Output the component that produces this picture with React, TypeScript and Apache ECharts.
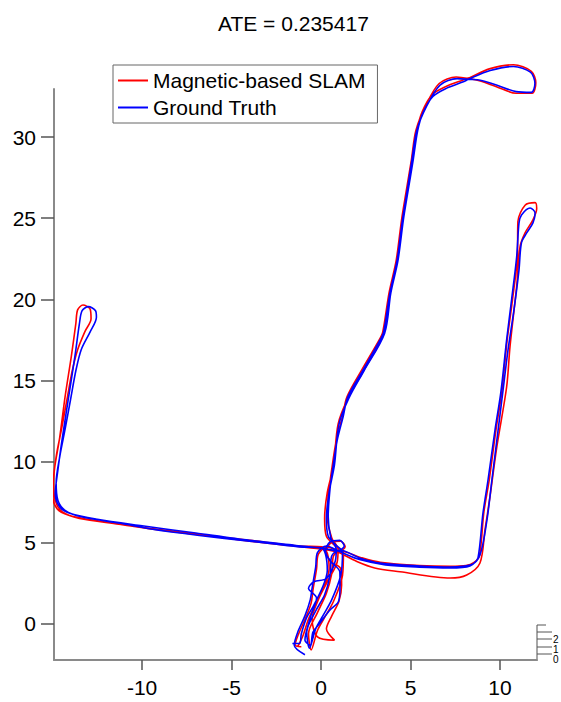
import React, { useEffect, useRef } from "react";
import * as echarts from "echarts";

const titleText = "ATE = 0.235417";
const seriesNames = ["Magnetic-based SLAM", "Ground Truth"];
const xTicks = [-10, -5, 0, 5, 10];
const yTicks = [0, 5, 10, 15, 20, 25, 30];
const zTickLabels = ["2", "1", "0"];

// Ground truth trajectory [x, y]
const groundTruth: number[][] = [
  [-1.6, -1.2], [-1.2, -1.2], [-1.1, -0.6], [-0.8, 0.4], [-0.45, 1.05], [0.1, 2.3], [0.35, 3.3], [0.25, 4.3], [0.0, 4.7],
  [-1.2, 4.75], [-4.0, 5.1], [-6.8, 5.45], [-9.5, 5.85], [-11.2, 6.2], [-13.4, 6.6], [-14.3, 7.0], [-14.7, 7.6],
  [-14.8, 8.7], [-14.6, 10.3], [-14.3, 12.0], [-14.0, 13.8], [-13.7, 15.6], [-13.4, 16.9], [-12.9, 18.0],
  [-12.55, 18.9], [-12.6, 19.3], [-13.0, 19.55], [-13.35, 19.3], [-13.5, 18.5], [-13.75, 16.5], [-14.1, 14.0],
  [-14.45, 11.5], [-14.7, 9.5], [-14.85, 8.0], [-14.6, 7.2], [-14.0, 6.8], [-12.5, 6.45], [-10.0, 6.05],
  [-7.0, 5.6], [-4.0, 5.15], [-1.5, 4.85], [0.2, 4.65], [0.9, 4.5], [1.3, 4.8], [1.05, 5.15], [0.5, 5.05],
  [0.25, 4.5], [0.5, 3.9], [1.05, 3.2], [1.06, 2.3], [0.97, 1.37], [0.5, 0.86], [-0.1, 0.0], [-0.45, -0.5], [-0.6, -1.3],
  [-0.9, -1.0], [-0.6, 0.4], [-0.25, 1.6], [-0.7, 2.2], [-0.4, 2.6], [0.3, 2.8], [0.8, 3.9], [0.85, 4.6], [0.55, 5.3], [0.4, 6.6],
  [0.5, 8.3], [0.67, 9.7], [0.9, 11.3], [1.23, 12.75], [1.5, 14.0], [2.35, 15.65], [3.3, 17.5], [3.5, 18.0],
  [3.85, 20.4], [4.25, 22.4], [4.55, 24.9], [4.8, 26.6], [5.08, 28.6], [5.35, 30.4], [5.9, 31.9], [6.65, 33.2],
  [7.6, 33.6], [8.3, 33.55], [8.9, 33.5], [9.8, 33.2], [10.9, 32.8], [11.75, 32.75], [11.95, 33.3], [11.7, 34.0],
  [10.75, 34.35], [9.45, 34.1], [8.3, 33.6], [7.95, 33.4], [7.0, 33.0], [6.25, 32.5], [5.7, 31.5], [5.4, 30.4],
  [5.15, 28.6], [4.85, 26.6], [4.6, 24.9], [4.3, 22.4], [3.9, 20.4], [3.55, 17.9], [2.4, 15.6], [1.55, 13.9],
  [1.0, 12.3], [0.75, 9.8], [0.45, 8.1], [0.3, 6.5], [0.4, 5.4], [0.8, 4.9], [1.2, 4.4],
  [1.1, 3.0], [0.6, 1.5], [0.1, 0.5], [-0.3, -0.3], [-0.65, -1.5],
  [-0.8, -0.5], [-0.3, 0.8], [0.2, 1.8], [0.5, 3.0], [0.6, 4.2], [1.06, 4.56], [2.2, 4.05], [3.3, 3.75],
  [5.5, 3.57], [7.2, 3.5], [8.05, 3.57], [8.5, 3.7], [8.77, 4.07], [9.05, 6.84], [9.33, 8.87], [9.72, 11.95],
  [10.05, 14.3], [10.37, 17.5], [10.65, 20.0], [10.93, 22.6], [11.06, 24.7], [11.2, 25.2], [11.68, 25.63],
  [11.96, 25.32], [11.84, 24.71], [11.49, 24.09], [11.2, 23.5], [11.06, 21.8], [10.78, 19.35], [10.45, 16.9],
  [10.17, 14.4], [9.9, 12.0], [9.55, 8.9], [9.27, 6.4], [8.88, 4.25], [8.32, 3.57], [7.2, 3.45], [5.5, 3.5],
  [3.6, 3.64], [2.2, 3.95], [1.06, 4.45], [0.3, 4.8], [-0.2, 4.4],
  [-0.3, 3.5], [-0.5, 2.2], [-0.6, 1.5], [-0.9, 0.5], [-1.3, -0.5], [-1.5, -1.3], [-0.9, -1.9],
];

// Magnetic-based SLAM estimate [x, y]
const slamEstimate: number[][] = [
  [-1.3, -1.4], [-1.0, -0.7], [-0.7, 0.3], [-0.3, 1.2], [0.2, 2.4], [0.45, 3.4], [0.35, 4.35], [0.05, 4.75],
  [-1.2, 4.8], [-4.0, 5.15], [-6.8, 5.5], [-9.5, 5.85], [-11.3, 6.15], [-13.5, 6.5], [-14.45, 6.9], [-14.85, 7.6],
  [-14.95, 8.7], [-14.8, 10.3], [-14.5, 12.0], [-14.2, 13.8], [-13.9, 15.6], [-13.6, 16.9], [-13.2, 18.0],
  [-12.85, 18.8], [-12.9, 19.4], [-13.3, 19.65], [-13.6, 19.35], [-13.7, 18.5], [-13.95, 16.5], [-14.3, 14.0],
  [-14.6, 11.5], [-14.9, 9.5], [-15.0, 8.0], [-14.75, 7.1], [-14.1, 6.7], [-12.5, 6.35], [-10.0, 5.95],
  [-7.0, 5.55], [-4.0, 5.1], [-1.5, 4.8], [0.2, 4.6], [0.95, 4.45], [1.35, 4.75], [1.1, 5.1], [0.55, 5.0],
  [0.3, 4.45], [0.55, 3.85], [1.1, 3.4], [1.15, 2.4], [1.0, 1.4], [0.6, 0.5], [0.3, -0.3], [0.75, -1.0],
  [-0.2, -0.8], [-0.5, 0.3], [-0.15, 1.5], [0.4, 2.7], [0.9, 3.8], [0.95, 4.6], [0.6, 5.3], [0.35, 6.6],
  [0.45, 8.3], [0.62, 9.7], [0.85, 11.3], [1.2, 12.8], [1.45, 14.0], [2.3, 15.7], [3.25, 17.5], [3.45, 18.0],
  [3.8, 20.4], [4.2, 22.4], [4.5, 24.9], [4.75, 26.6], [5.05, 28.6], [5.3, 30.4], [5.85, 31.95], [6.6, 33.3],
  [7.55, 33.7], [8.3, 33.6], [8.9, 33.45], [9.8, 33.1], [10.9, 32.7], [11.8, 32.7], [12.0, 33.35], [11.75, 34.05],
  [10.75, 34.45], [9.4, 34.2], [8.3, 33.65], [7.9, 33.5], [6.95, 33.1], [6.2, 32.6], [5.65, 31.55], [5.35, 30.4],
  [5.1, 28.6], [4.8, 26.6], [4.55, 24.9], [4.25, 22.4], [3.85, 20.4], [3.5, 17.9], [2.35, 15.55], [1.5, 13.9],
  [0.95, 12.3], [0.7, 9.8], [0.35, 8.1], [0.2, 6.5], [0.3, 5.4], [0.75, 4.85], [1.25, 4.35],
  [1.2, 3.0], [0.7, 1.4], [0.2, 0.4], [-0.2, -0.4], [-0.55, -1.6],
  [-0.7, -0.6], [-0.2, 0.7], [0.3, 1.9], [0.6, 3.1], [0.7, 4.2], [1.1, 4.5], [2.2, 4.1], [3.3, 3.8],
  [5.5, 3.6], [7.2, 3.55], [8.1, 3.6], [8.55, 3.8], [8.85, 4.2], [9.1, 6.9], [9.4, 8.9], [9.78, 12.0],
  [10.1, 14.3], [10.4, 17.5], [10.7, 20.0], [10.97, 22.6], [11.0, 24.8], [11.4, 25.8], [11.96, 25.96],
  [12.05, 25.6], [11.84, 24.9], [11.4, 24.1], [11.12, 23.25], [10.93, 20.8], [10.56, 17.1], [10.37, 14.6],
  [9.82, 10.9], [9.44, 7.84], [9.16, 5.8], [8.88, 3.76], [8.14, 3.02], [7.21, 2.83], [4.41, 3.22],
  [3.0, 3.45], [2.0, 3.85], [1.1, 4.35], [0.35, 4.75], [-0.15, 4.3],
  [-0.25, 3.4], [-0.45, 2.1], [-0.55, 1.3], [-0.85, 0.4], [-1.25, -0.6], [-1.45, -1.3], [-1.1, -1.4],
];

const FONT = "'Liberation Sans', Arial, sans-serif";

export default function App() {
  const ref = useRef<HTMLDivElement>(null);
  useEffect(() => {
    document.body.style.margin = "0";
    if (!ref.current) return;
    const chart = echarts.init(ref.current, undefined, { renderer: "svg" });
    const axisColor = "#8a8a8a";
    const tickColor = "#555";
    const zTickYs = [632, 639, 647, 654];
    chart.setOption({
      animation: false,
      backgroundColor: "#fff",
      textStyle: { fontFamily: FONT },
      title: {
        text: titleText,
        left: 213,
        top: 8,
        textStyle: { fontSize: 21, fontWeight: "normal", color: "#000", fontFamily: FONT },
      },
      legend: {
        orient: "vertical",
        left: 113,
        top: 65,
        data: seriesNames,
        icon: "rect",
        itemWidth: 30,
        itemHeight: 2,
        itemGap: 6,
        padding: [5, 12, 5, 5],
        borderColor: "#666",
        borderWidth: 1,
        backgroundColor: "#fff",
        textStyle: { fontSize: 21, color: "#000", fontFamily: FONT },
      },
      grid: { left: 54, top: 89, width: 482.7, height: 571, containLabel: false },
      xAxis: {
        type: "value",
        min: -14.92,
        max: 12.05,
        splitLine: { show: false },
        axisLine: { show: true, onZero: false, lineStyle: { color: axisColor, width: 2 } },
        axisTick: { show: true, customValues: xTicks, length: 10, lineStyle: { color: tickColor, width: 1.5 } },
        axisLabel: { customValues: xTicks, fontSize: 21, color: "#000", margin: 17, fontFamily: FONT },
      },
      yAxis: {
        type: "value",
        min: -2.22,
        max: 32.96,
        splitLine: { show: false },
        axisLine: { show: true, onZero: false, lineStyle: { color: axisColor, width: 2 } },
        axisTick: { show: true, customValues: yTicks, length: 13, lineStyle: { color: tickColor, width: 1.5 } },
        axisLabel: { customValues: yTicks, fontSize: 21, color: "#000", margin: 18, fontFamily: FONT },
      },
      graphic: [
        { type: "line", shape: { x1: 537, y1: 625, x2: 537, y2: 661 }, style: { stroke: axisColor, lineWidth: 1.5 } },
        { type: "line", shape: { x1: 537, y1: 625, x2: 546, y2: 625 }, style: { stroke: tickColor, lineWidth: 1 } },
        ...zTickYs.map((y) => ({
          type: "line",
          shape: { x1: 537, y1: y, x2: 552, y2: y },
          style: { stroke: tickColor, lineWidth: 1 },
        })),
        ...zTickLabels.map((t, i) => ({
          type: "text",
          x: 553,
          y: 634 + i * 10,
          style: { text: t, fontSize: 10, lineHeight: 10, fill: "#000", fontFamily: FONT },
        })),
      ],
      series: [
        {
          name: seriesNames[0],
          type: "line",
          data: slamEstimate,
          showSymbol: false,
          symbol: "none",
          clip: false,
          smooth: 0.3,
          lineStyle: { color: "#ff0000", width: 1.6 },
          itemStyle: { color: "#ff0000" },
        },
        {
          name: seriesNames[1],
          type: "line",
          data: groundTruth,
          showSymbol: false,
          symbol: "none",
          clip: false,
          smooth: 0.3,
          lineStyle: { color: "#0000ff", width: 1.6 },
          itemStyle: { color: "#0000ff" },
        },
      ],
    });
    return () => chart.dispose();
  }, []);
  return <div ref={ref} style={{ width: 561, height: 702 }} />;
}
